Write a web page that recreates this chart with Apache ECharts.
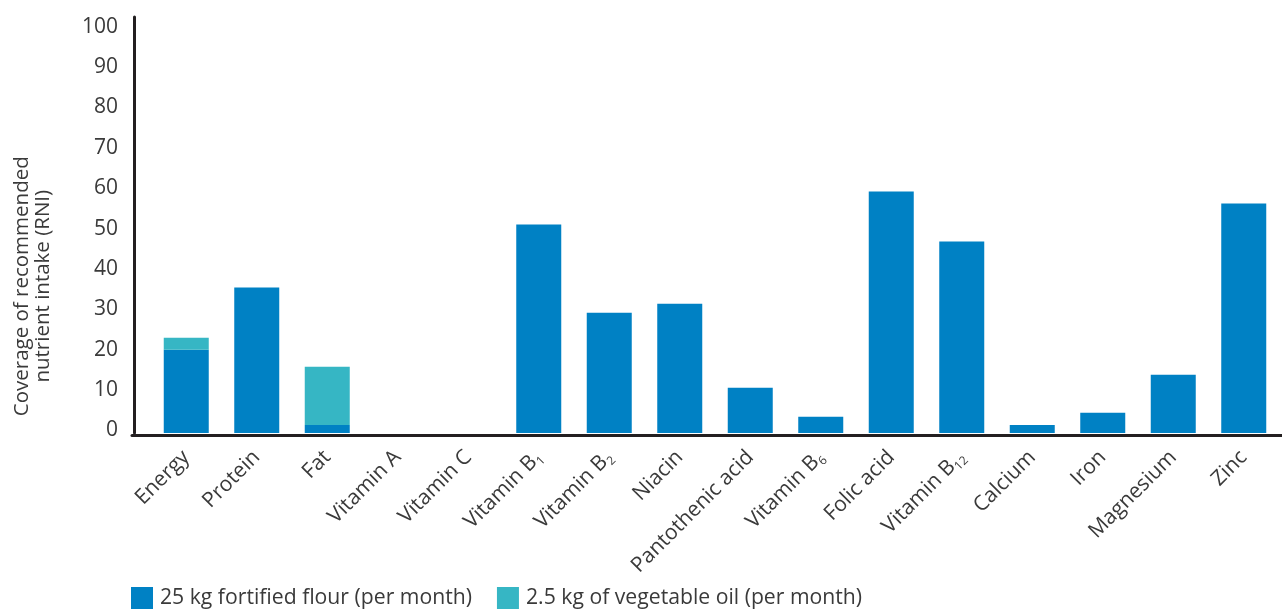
<!DOCTYPE html>
<html>
<head>
<meta charset="utf-8">
<script src="https://cdn.jsdelivr.net/npm/echarts@6/dist/echarts.min.js"></script>
<style>
html,body{margin:0;padding:0;background:#fff;}
#chart{width:1282px;height:610px;}
</style>
</head>
<body>
<div id="chart"></div>
<script>
const categories = ['Energy','Protein','Fat','Vitamin A','Vitamin C','Vitamin B1','Vitamin B2','Niacin','Pantothenic acid','Vitamin B6','Folic acid','Vitamin B12','Calcium','Iron','Magnesium','Zinc'];
const flourValues = [20.6, 36.0, 2.0, 0, 0, 51.6, 29.8, 32.0, 11.2, 4.0, 59.8, 47.4, 2.0, 5.0, 14.4, 56.8];
const oilValues   = [3.0, 0, 14.4, 0, 0, 0, 0, 0, 0, 0, 0, 0, 0, 0, 0, 0];
const seriesNames = ['25 kg fortified flour (per month)', '2.5 kg of vegetable oil (per month)'];
const yAxisTitle = 'Coverage of recommended\nnutrient intake (RNI)';

const FONT = '"Open Sans", "Noto Sans", sans-serif';
const TXT = '#3a3a3a';
const AXIS = '#231f20';

const chart = echarts.init(document.getElementById('chart'), null, {renderer: 'canvas'});

function fmtCat(v) {
  const m = v.match(/^(Vitamin B)(\d+)$/);
  if (m) return '{n|' + m[1] + '}{s|' + m[2] + '}';
  return '{n|' + v + '}';
}

chart.setOption({
  animation: false,
  backgroundColor: '#ffffff',
  textStyle: {fontFamily: FONT, color: TXT},
  legend: {
    left: 131, top: 587, padding: 0,
    itemWidth: 22, itemHeight: 22, itemGap: 25,
    icon: 'rect',
    data: seriesNames,
    textStyle: {fontFamily: FONT, fontSize: 21.2, color: TXT, padding: [0,0,0,2]}
  },
  grid: [
    {left: 151, right: 3, top: 17, bottom: 177, containLabel: false},
    {left: 132, right: 0, top: 137, bottom: 174.5, containLabel: false}
  ],
  xAxis: [
    {
      gridIndex: 0, type: 'category', data: categories,
      axisLine: {show: false}, axisTick: {show: false},
      axisLabel: {
        rotate: 45, margin: 21, interval: 0,
        formatter: fmtCat,
        rich: {
          n: {fontFamily: FONT, fontSize: 21, color: TXT, lineHeight: 25},
          s: {fontFamily: FONT, fontSize: 12, color: TXT, lineHeight: 12, verticalAlign: 'bottom'}
        }
      }
    },
    {
      gridIndex: 1, type: 'value', min: 0, max: 1,
      axisLine: {show: true, onZero: false, lineStyle: {color: AXIS, width: 3}},
      axisTick: {show: false}, axisLabel: {show: false}, splitLine: {show: false}
    }
  ],
  yAxis: [
    {
      gridIndex: 0, type: 'value', min: 0, max: 103, interval: 10,
      offset: 17,
      axisLine: {show: true, lineStyle: {color: AXIS, width: 3}},
      axisTick: {show: false},
      splitLine: {show: false},
      axisLabel: {
        showMaxLabel: false, margin: 16,
        fontFamily: FONT, fontSize: 21, color: TXT,
        verticalAlign: 'bottom', lineHeight: 5
      }
    },
    {
      gridIndex: 1, type: 'value', min: 0, max: 1,
      name: yAxisTitle, nameLocation: 'middle', nameRotate: 90, nameGap: 78,
      nameTextStyle: {fontFamily: FONT, fontSize: 20.5, color: TXT, lineHeight: 21},
      axisLine: {show: false}, axisTick: {show: false},
      axisLabel: {show: false}, splitLine: {show: false}
    }
  ],
  series: [
    {
      name: seriesNames[0], type: 'bar', stack: 'total',
      xAxisIndex: 0, yAxisIndex: 0,
      barWidth: 45, data: flourValues,
      itemStyle: {color: '#0081c4'}
    },
    {
      name: seriesNames[1], type: 'bar', stack: 'total',
      xAxisIndex: 0, yAxisIndex: 0,
      barWidth: 45, data: oilValues,
      itemStyle: {color: '#36b6c4'}
    }
  ]
});
</script>
</body>
</html>
